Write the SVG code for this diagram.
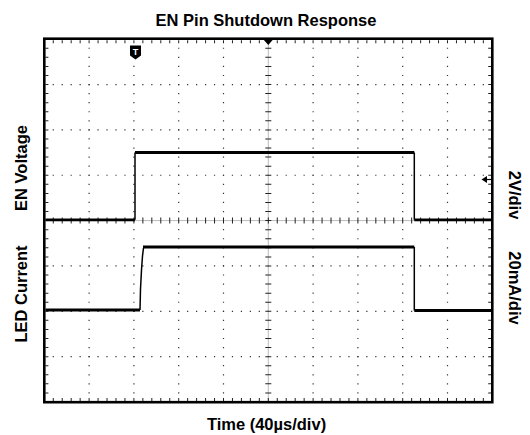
<svg xmlns="http://www.w3.org/2000/svg" width="530" height="435" viewBox="0 0 530 435">
  <style>
    .lbl { font-family: "Liberation Sans", Arial, sans-serif; font-weight: bold; font-size: 16.5px; fill: #000; text-anchor: middle; }
    .dotv { stroke: #333; stroke-width: 1.2; stroke-dasharray: 1.2 7.87; stroke-dashoffset: 0.6; fill: none; }
    .doth { stroke: #333; stroke-width: 1.2; stroke-dasharray: 1.2 7.76; stroke-dashoffset: 0.6; fill: none; }
    .tickh { stroke: #222; fill: none; stroke-dasharray: 1 7.96; stroke-dashoffset: 0.5; }
    .tickv { stroke: #222; fill: none; stroke-dasharray: 1 8.07; stroke-dashoffset: 0.5; }
    .level { stroke: #000; stroke-width: 2.8; fill: none; }
    .edge { stroke: #000; stroke-width: 1.5; fill: none; }
  </style>
  <rect width="530" height="435" fill="#fff"/>

  <g id="title">
    <text class="lbl" x="266" y="26">EN Pin Shutdown Response</text>
  </g>

  <g id="grid">
    <!-- dotted vertical grid lines -->
    <line class="dotv" x1="89.1" y1="39.2" x2="89.1" y2="402"/>
    <line class="dotv" x1="133.9" y1="39.2" x2="133.9" y2="402"/>
    <line class="dotv" x1="178.7" y1="39.2" x2="178.7" y2="402"/>
    <line class="dotv" x1="223.5" y1="39.2" x2="223.5" y2="402"/>
    <line class="dotv" x1="313.1" y1="39.2" x2="313.1" y2="402"/>
    <line class="dotv" x1="357.9" y1="39.2" x2="357.9" y2="402"/>
    <line class="dotv" x1="402.7" y1="39.2" x2="402.7" y2="402"/>
    <line class="dotv" x1="447.5" y1="39.2" x2="447.5" y2="402"/>
    <!-- dotted horizontal grid lines -->
    <line class="doth" x1="44.3" y1="84.55" x2="492.3" y2="84.55"/>
    <line class="doth" x1="44.3" y1="129.9" x2="492.3" y2="129.9"/>
    <line class="doth" x1="44.3" y1="175.25" x2="492.3" y2="175.25"/>
    <line class="doth" x1="44.3" y1="265.95" x2="492.3" y2="265.95"/>
    <line class="doth" x1="44.3" y1="311.3" x2="492.3" y2="311.3"/>
    <line class="doth" x1="44.3" y1="356.65" x2="492.3" y2="356.65"/>
    <!-- center axes -->
    <line x1="268.3" y1="39.2" x2="268.3" y2="402" stroke="#bbb" stroke-width="1"/>
    <line x1="44.3" y1="220.6" x2="492.3" y2="220.6" stroke="#bbb" stroke-width="1"/>
    <line class="tickv" x1="268.3" y1="39.2" x2="268.3" y2="402" stroke-width="6"/>
    <line class="tickh" x1="44.3" y1="220.6" x2="492.3" y2="220.6" stroke-width="6"/>
    <!-- border ticks -->
    <line class="tickh" x1="44.3" y1="41.8" x2="492.3" y2="41.8" stroke-width="3"/>
    <line class="tickh" x1="44.3" y1="399.4" x2="492.3" y2="399.4" stroke-width="3"/>
    <line class="tickv" x1="46.9" y1="39.2" x2="46.9" y2="402" stroke-width="3"/>
    <line class="tickv" x1="489.7" y1="39.2" x2="489.7" y2="402" stroke-width="3"/>
    <!-- frame -->
    <rect x="44.3" y="38.7" width="448" height="363.5" fill="none" stroke="#000" stroke-width="2.6"/>
  </g>

  <g id="markers">
    <path d="M263,39 L273.5,39 L268.3,45 Z" fill="#000"/>
    <path d="M130,45.5 H141 V55.5 L135.5,59.5 L130,55.5 Z" fill="#000"/>
    <text x="135.5" y="55" font-family="Liberation Sans, Arial, sans-serif" font-weight="bold" font-size="9" fill="#fff" text-anchor="middle">T</text>
    <path d="M481.5,179.5 L487,176 L487,183 Z" fill="#000"/>
    <line x1="486" y1="179.5" x2="491" y2="179.5" stroke="#000" stroke-width="1.2"/>
  </g>

  <g id="en-trace">
    <line class="level" x1="45.5" y1="219.8" x2="135" y2="219.8"/>
    <line class="edge" x1="135" y1="219.8" x2="135" y2="152.5"/>
    <line class="level" x1="135" y1="152.5" x2="414.3" y2="152.5"/>
    <line class="edge" x1="414.3" y1="152.5" x2="414.3" y2="219.8"/>
    <line class="level" x1="414.3" y1="219.8" x2="491" y2="219.8"/>
  </g>

  <g id="led-trace">
    <line class="level" x1="45.5" y1="310" x2="140" y2="310"/>
    <polyline class="edge" points="140,310 140.5,289 141.5,270 142.5,256 143.5,248"/>
    <line class="level" x1="143" y1="247" x2="414.3" y2="247"/>
    <line class="edge" x1="414.3" y1="247" x2="414.3" y2="310.5"/>
    <line class="level" x1="414.3" y1="310.5" x2="491" y2="310.5"/>
  </g>

  <g id="labels">
    <text class="lbl" transform="translate(27,168) rotate(-90)">EN Voltage</text>
    <text class="lbl" transform="translate(27,294) rotate(-90)">LED Current</text>
    <text class="lbl" transform="translate(509,195) rotate(90)">2V/div</text>
    <text class="lbl" transform="translate(509,288) rotate(90)">20mA/div</text>
    <text class="lbl" x="266.5" y="430">Time (40µs/div)</text>
  </g>
</svg>
